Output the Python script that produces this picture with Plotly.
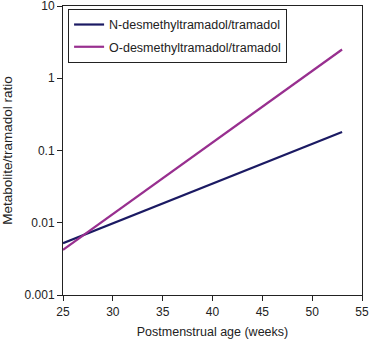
import plotly.graph_objects as go

# Regression lines of metabolite/parent ratio vs postmenstrual age
age_weeks = [25, 53]
n_desmethyl_ratio = [0.0052, 0.18]
o_desmethyl_ratio = [0.0042, 2.5]

series_names = ["N-desmethyltramadol/tramadol", "O-desmethyltramadol/tramadol"]
series_colors = ["#1b1a63", "#982f8f"]

x_ticks = [25, 30, 35, 40, 45, 50, 55]
y_ticks = [0.001, 0.01, 0.1, 1, 10]
y_tick_text = ["0.001", "0.01", "0.1", "1", "10"]

font_family = "Liberation Sans, Arial, sans-serif"

fig = go.Figure()
for name, ys, color in zip(series_names, [n_desmethyl_ratio, o_desmethyl_ratio], series_colors):
    fig.add_trace(go.Scatter(
        x=age_weeks, y=ys, mode="lines", name=name, legendgroup=name,
        line=dict(color=color, width=2.2),
    ))

fig.update_layout(
    width=370, height=339,
    margin=dict(l=63, r=8, t=6, b=44),
    paper_bgcolor="white", plot_bgcolor="white",
    font=dict(family=font_family, size=12, color="#222"),
    showlegend=True,
    legend=dict(
        x=0.017, y=0.99, xanchor="left", yanchor="top",
        bordercolor="#222", borderwidth=1, bgcolor="white",
        font=dict(size=12.5), tracegroupgap=3,
        entrywidth=198, entrywidthmode="pixels",
    ),
    xaxis=dict(
        range=[25, 55], tickvals=x_ticks, automargin=False,
        showline=True, linecolor="#222", linewidth=1, mirror=True,
        ticks="outside", ticklen=5, tickcolor="#222", ticklabelstandoff=1,
        showgrid=False, zeroline=False,
        title=dict(text="Postmenstrual age (weeks)", font=dict(size=12.5), standoff=8),
    ),
    yaxis=dict(
        type="log", range=[-3, 1], tickvals=y_ticks, ticktext=y_tick_text,
        automargin=False, ticklabeloverflow="allow",
        showline=True, linecolor="#222", linewidth=1, mirror=True,
        ticks="outside", ticklen=5, tickcolor="#222",
        showgrid=False, zeroline=False,
        title=dict(text="Metabolite/tramadol ratio", font=dict(size=13.5), standoff=8),
    ),
)

fig.write_html("out.html")
